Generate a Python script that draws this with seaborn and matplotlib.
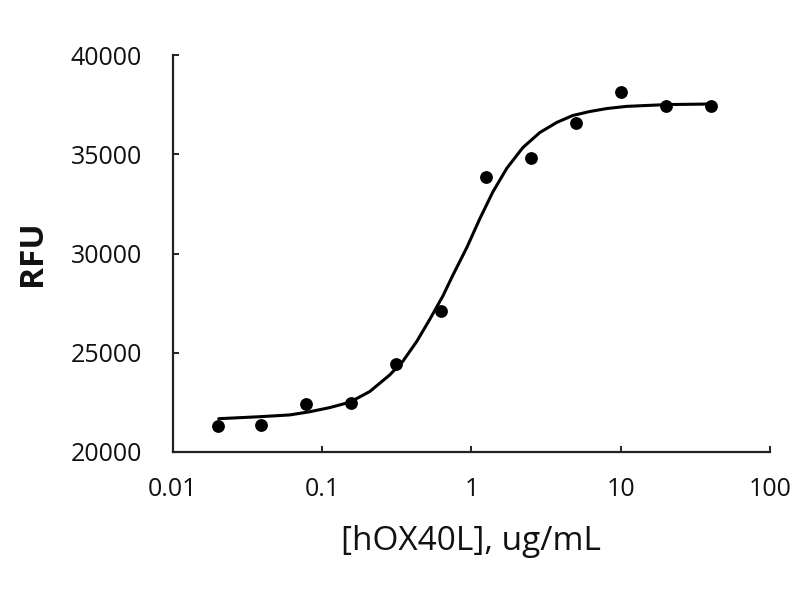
import matplotlib
matplotlib.use("Agg")
import matplotlib.pyplot as plt
import seaborn as sns
import pandas as pd

# measured points: concentration (ug/mL) vs RFU
conc = [0.02, 0.039, 0.078, 0.156, 0.3125, 0.625, 1.25, 2.5, 5, 10, 20, 40]
rfu = [21320, 21370, 22430, 22480, 24450, 27090, 33870, 34830, 36560, 38150, 37420, 37430]

# fitted curve
curve_x = [0.0203, 0.0383, 0.0608, 0.0827, 0.1126, 0.1533, 0.2087, 0.2841, 0.3472,
           0.4309, 0.5264, 0.6434, 0.7506, 0.9317, 1.138, 1.391, 1.727, 2.21,
           2.872, 3.733, 4.778, 6.209, 8.07, 11.0, 20.4, 41.4]
curve_y = [21670, 21770, 21860, 22020, 22230, 22500, 23040, 23880, 24560,
           25570, 26680, 27850, 28900, 30300, 31750, 33100, 34300, 35340,
           36100, 36610, 36960, 37160, 37310, 37420, 37510, 37540]

xticks = [0.01, 0.1, 1, 10, 100]
xtick_labels = ["0.01", "0.1", "1", "10", "100"]
yticks = [20000, 25000, 30000, 35000, 40000]

points = pd.DataFrame({"conc": conc, "rfu": rfu})
curve = pd.DataFrame({"x": curve_x, "y": curve_y})

sns.set_style("white")
plt.rcParams["font.family"] = ["Open Sans", "DejaVu Sans"]

fig = plt.figure(figsize=(8, 6), dpi=100)
fig.subplots_adjust(left=0.216, right=0.9625, bottom=0.247, top=0.908)
ax = fig.add_subplot(111)

sns.lineplot(data=curve, x="x", y="y", ax=ax, color="black", linewidth=2.2)
sns.scatterplot(data=points, x="conc", y="rfu", ax=ax, color="black", s=85,
                edgecolor="black", linewidth=0, zorder=3)

ax.set_xscale("log")
ax.set_xlim(0.01, 100)
ax.set_ylim(20000, 40000)
ax.set_xticks(xticks)
ax.set_xticklabels(xtick_labels)
ax.set_yticks(yticks)
ax.minorticks_off()

for s in ["top", "right"]:
    ax.spines[s].set_visible(False)
for s in ["left", "bottom"]:
    ax.spines[s].set_linewidth(1.6)
    ax.spines[s].set_color("#222222")

ax.tick_params(axis="both", direction="in", length=4, width=1.4, color="#222222",
               labelsize=18, labelcolor="#111111", bottom=True, left=True)
ax.tick_params(axis="y", pad=22)
ax.tick_params(axis="x", pad=18)

ax.set_xlabel("[hOX40L], ug/mL", fontsize=24, color="#111111", labelpad=17)
ax.set_ylabel("RFU", fontsize=24, fontweight="bold", color="#111111", labelpad=16)

fig.savefig("out.png", dpi=100)
